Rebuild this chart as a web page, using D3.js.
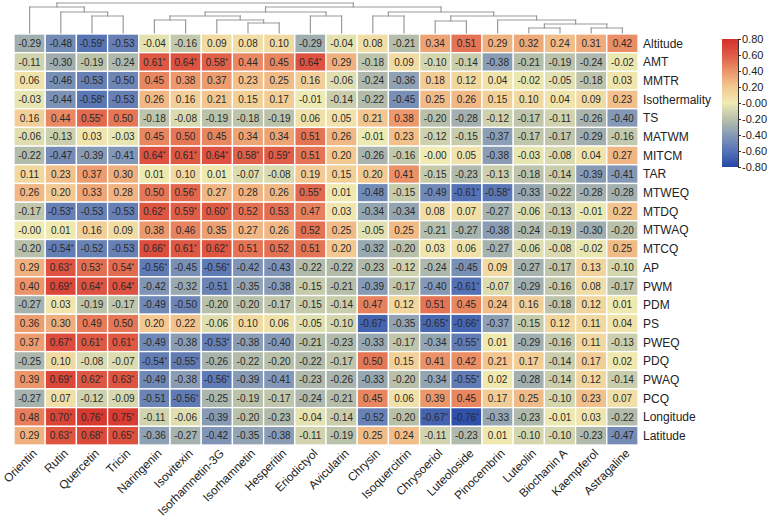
<!DOCTYPE html>
<html><head><meta charset="utf-8">
<script src="https://cdn.jsdelivr.net/npm/d3@7"></script>
<style>body{margin:0;background:#fff;} text{font-family: Arial, "Liberation Sans", sans-serif;}</style>
</head><body><svg id="chart" width="767" height="520"></svg>
<script>
const cols = ["Orientin","Rutin","Quercetin","Tricin","Naringenin","Isovitexin","Isorhamnetin-3G","Isorhamnetin","Hesperitin","Eriodictyol","Avicularin","Chrysin","Isoquercitrin","Chrysoeriol","Luteoloside","Pinocembrin","Luteolin","Biochanin A","Kaempferol","Astragaline"];
const rows = ["Altitude","AMT","MMTR","Isothermality","TS","MATWM","MITCM","TAR","MTWEQ","MTDQ","MTWAQ","MTCQ","AP","PWM","PDM","PS","PWEQ","PDQ","PWAQ","PCQ","Longitude","Latitude"];

const rAltitude = [-0.29,-0.48,-0.59,-0.53,-0.04,-0.16,0.09,0.08,0.10,-0.29,-0.04,0.08,-0.21,0.34,0.51,0.29,0.32,0.24,0.31,0.42];
const rAMT = [-0.11,-0.30,-0.19,-0.24,0.61,0.64,0.58,0.44,0.45,0.64,0.29,-0.18,0.09,-0.10,-0.14,-0.38,-0.21,-0.19,-0.24,-0.02];
const rMMTR = [0.06,-0.46,-0.53,-0.50,0.45,0.38,0.37,0.23,0.25,0.16,-0.06,-0.24,-0.36,0.18,0.12,0.04,-0.02,-0.05,-0.18,0.03];
const rIsothermality = [-0.03,-0.44,-0.58,-0.53,0.26,0.16,0.21,0.15,0.17,-0.01,-0.14,-0.22,-0.45,0.25,0.26,0.15,0.10,0.04,0.09,0.23];
const rTS = [0.16,0.44,0.55,0.50,-0.18,-0.08,-0.19,-0.18,-0.19,0.06,0.05,0.21,0.38,-0.20,-0.28,-0.12,-0.17,-0.11,-0.26,-0.40];
const rMATWM = [-0.06,-0.13,0.03,-0.03,0.45,0.50,0.45,0.34,0.34,0.51,0.26,-0.01,0.23,-0.12,-0.15,-0.37,-0.17,-0.17,-0.29,-0.16];
const rMITCM = [-0.22,-0.47,-0.39,-0.41,0.64,0.61,0.64,0.58,0.59,0.51,0.20,-0.26,-0.16,-0.00,0.05,-0.38,-0.03,-0.08,0.04,0.27];
const rTAR = [0.11,0.23,0.37,0.30,0.01,0.10,0.01,-0.07,-0.08,0.19,0.15,0.20,0.41,-0.15,-0.23,-0.13,-0.18,-0.14,-0.39,-0.41];
const rMTWEQ = [0.26,0.20,0.33,0.28,0.50,0.56,0.27,0.28,0.26,0.55,0.01,-0.48,-0.15,-0.49,-0.61,-0.58,-0.33,-0.22,-0.28,-0.28];
const rMTDQ = [-0.17,-0.53,-0.53,-0.53,0.62,0.59,0.60,0.52,0.53,0.47,0.03,-0.34,-0.34,0.08,0.07,-0.27,-0.06,-0.13,-0.01,0.22];
const rMTWAQ = [-0.00,0.01,0.16,0.09,0.38,0.46,0.35,0.27,0.26,0.52,0.25,-0.05,0.25,-0.21,-0.27,-0.38,-0.24,-0.19,-0.30,-0.20];
const rMTCQ = [-0.20,-0.54,-0.52,-0.53,0.66,0.61,0.62,0.51,0.52,0.51,0.20,-0.32,-0.20,0.03,0.06,-0.27,-0.06,-0.08,-0.02,0.25];
const rAP = [0.29,0.63,0.53,0.54,-0.56,-0.45,-0.56,-0.42,-0.43,-0.22,-0.22,-0.23,-0.12,-0.24,-0.45,0.09,-0.27,-0.17,0.13,-0.10];
const rPWM = [0.40,0.69,0.64,0.64,-0.42,-0.32,-0.51,-0.35,-0.38,-0.15,-0.21,-0.39,-0.17,-0.40,-0.61,-0.07,-0.29,-0.16,0.08,-0.17];
const rPDM = [-0.27,0.03,-0.19,-0.17,-0.49,-0.50,-0.20,-0.20,-0.17,-0.15,-0.14,0.47,0.12,0.51,0.45,0.24,0.16,-0.18,0.12,0.01];
const rPS = [0.36,0.30,0.49,0.50,0.20,0.22,-0.06,0.10,0.06,-0.05,-0.10,-0.67,-0.35,-0.65,-0.66,-0.37,-0.15,0.12,0.11,0.04];
const rPWEQ = [0.37,0.67,0.61,0.61,-0.49,-0.38,-0.53,-0.38,-0.40,-0.21,-0.23,-0.33,-0.17,-0.34,-0.55,0.01,-0.29,-0.16,0.11,-0.13];
const rPDQ = [-0.25,0.10,-0.08,-0.07,-0.54,-0.55,-0.26,-0.22,-0.20,-0.22,-0.17,0.50,0.15,0.41,0.42,0.21,0.17,-0.14,0.17,0.02];
const rPWAQ = [0.39,0.69,0.62,0.63,-0.49,-0.38,-0.56,-0.39,-0.41,-0.23,-0.26,-0.33,-0.20,-0.34,-0.55,0.02,-0.28,-0.14,0.12,-0.14];
const rPCQ = [-0.27,0.07,-0.12,-0.09,-0.51,-0.56,-0.25,-0.19,-0.17,-0.24,-0.21,0.45,0.06,0.39,0.45,0.17,0.25,-0.10,0.23,0.07];
const rLongitude = [0.48,0.70,0.76,0.75,-0.11,-0.06,-0.39,-0.20,-0.23,-0.04,-0.14,-0.52,-0.20,-0.67,-0.76,-0.33,-0.23,-0.01,0.03,-0.22];
const rLatitude = [0.29,0.63,0.68,0.65,-0.36,-0.27,-0.42,-0.35,-0.38,-0.11,-0.19,0.25,0.24,-0.11,-0.23,0.01,-0.10,-0.10,-0.23,-0.47];

const matrix = [rAltitude,rAMT,rMMTR,rIsothermality,rTS,rMATWM,rMITCM,rTAR,rMTWEQ,rMTDQ,rMTWAQ,rMTCQ,rAP,rPWM,rPDM,rPS,rPWEQ,rPDQ,rPWAQ,rPCQ,rLongitude,rLatitude];

// column indices marked significant (*) for each row
const sigCols = [[2],[4,5,6,9],[],[2],[2],[],[4,5,6,7,8],[],[5,9,14,15],[1,4,5,6],[],[1,4,5,6],[1,2,3,4,6],[1,2,3,14],[],[11,13,14],[1,2,3,6,14],[4,5],[1,2,3,6,14],[5],[1,2,3,13,14],[1,2,3]];

const legendTicks = [0.8,0.6,0.4,0.2,0,-0.2,-0.4,-0.6,-0.8];
const legendLabels = ["0.80","0.60","0.40","0.20","-0.00","-0.20","-0.40","-0.60","-0.80"];

// column clustering tree (merge heights)
const colTree = {h:30, children:[
  {h:26, children:[{name:"Orientin"},{h:21, children:[{name:"Rutin"},{h:17, children:[{name:"Quercetin"},{name:"Tricin"}]}]}]},
  {h:26, children:[
    {h:21, children:[
      {h:17, children:[
        {h:13, children:[{name:"Naringenin"},{name:"Isovitexin"}]},
        {h:13, children:[{name:"Isorhamnetin-3G"},{h:10, children:[{name:"Isorhamnetin"},{name:"Hesperitin"}]}]}
      ]},
      {h:17, children:[{name:"Eriodictyol"},{name:"Avicularin"}]}
    ]},
    {h:21, children:[
      {h:17, children:[{name:"Chrysin"},{name:"Isoquercitrin"}]},
      {h:17, children:[
        {h:12, children:[{name:"Chrysoeriol"},{name:"Luteoloside"}]},
        {h:13, children:[{name:"Pinocembrin"},{h:9, children:[
          {h:5, children:[{name:"Luteolin"},{name:"Biochanin A"}]},
          {h:5, children:[{name:"Kaempferol"},{name:"Astragaline"}]}
        ]}]}
      ]}
    ]}
  ]}
]};

const svg = d3.select("#chart");
const x = d3.scaleBand().domain(cols).range([14,638]);
const y = d3.scaleBand().domain(rows).range([34,445]);
const color = d3.scaleLinear()
  .domain([-0.8,-0.6,-0.4,-0.2,0,0.2,0.4,0.6,0.8])
  .range(["#2548a8","#5573b5","#8599b6","#b8c0aa","#efebb2","#f3c891","#eb9469","#df5a45","#d5302b"])
  .clamp(true);

const fmt = v => ((v < 0 || Object.is(v,-0)) ? "-" : "") + Math.abs(v).toFixed(2);

const cells = [];
rows.forEach((r,i) => cols.forEach((c,j) => cells.push({r, c, v: matrix[i][j], sig: sigCols[i].includes(j)})));

const g = svg.append("g");
g.selectAll("rect.cell").data(cells).join("rect")
  .attr("class","cell")
  .attr("x", d => x(d.c)).attr("y", d => y(d.r))
  .attr("width", x.bandwidth()).attr("height", y.bandwidth())
  .attr("fill", d => color(d.v))
  .attr("stroke","#fff").attr("stroke-width",1.3);

const t = g.selectAll("text.val").data(cells).join("text")
  .attr("class","val")
  .attr("x", d => x(d.c) + x.bandwidth()/2)
  .attr("y", d => y(d.r) + y.bandwidth()/2)
  .attr("dy","0.36em")
  .attr("text-anchor","middle")
  .attr("font-size","10px")
  .attr("fill","#2a2a2a");
t.append("tspan").text(d => fmt(d.v));
t.filter(d => d.sig).append("tspan").text("*").attr("font-size","7px").attr("dy","-3");

// row labels
svg.append("g").selectAll("text").data(rows).join("text")
  .attr("x", 643).attr("y", d => y(d) + y.bandwidth()/2)
  .attr("dy","0.36em").attr("font-size","12px").attr("fill","#222")
  .text(d => d);

// column labels
svg.append("g").selectAll("text").data(cols).join("text")
  .attr("transform", d => `translate(${x(d) + x.bandwidth()/2 + 8},${454}) rotate(-45)`)
  .attr("text-anchor","end").attr("font-size","11.8px").attr("fill","#222")
  .text(d => d);

// dendrogram
const root = d3.hierarchy(colTree);
const yd = d3.scaleLinear().domain([0,30]).range([33,3]);
root.eachAfter(n => {
  if (!n.children) { n.px = x(n.data.name) + x.bandwidth()/2; n.ph = 0; }
  else { n.px = d3.mean(n.children, c => c.px); n.ph = n.data.h; }
});
const segs = [];
root.each(n => {
  if (n.children) {
    const xs = n.children.map(c => c.px);
    segs.push([d3.min(xs), yd(n.ph), d3.max(xs), yd(n.ph)]);
    n.children.forEach(c => segs.push([c.px, yd(n.ph), c.px, yd(c.ph)]));
  }
});
svg.append("g").selectAll("line").data(segs).join("line")
  .attr("x1", d => d[0]).attr("y1", d => d[1]).attr("x2", d => d[2]).attr("y2", d => d[3])
  .attr("stroke","#9a9a9a").attr("stroke-width",1.2).attr("stroke-linecap","square");

// colour bar
const defs = svg.append("defs");
const grad = defs.append("linearGradient").attr("id","cbar").attr("x1","0").attr("y1","1").attr("x2","0").attr("y2","0");
color.domain().forEach(v => grad.append("stop").attr("offset", (v+0.8)/1.6).attr("stop-color", color(v)));
const ly = d3.scaleLinear().domain([-0.8,0.8]).range([167,39]);
svg.append("rect").attr("x",722).attr("y",ly(0.8)).attr("width",16).attr("height",ly(-0.8)-ly(0.8)).attr("fill","url(#cbar)");
const ax = svg.append("g").attr("transform","translate(738,0)")
  .call(d3.axisRight(ly).tickValues(legendTicks).tickFormat((d,i) => legendLabels[i]).tickSize(3).tickPadding(1));
ax.select(".domain").attr("stroke","#333");
ax.selectAll(".tick line").attr("stroke","#333");
ax.selectAll("text").attr("font-size","11px").attr("fill","#222").style("font-family","Arial, 'Liberation Sans', sans-serif");
</script></body></html>
